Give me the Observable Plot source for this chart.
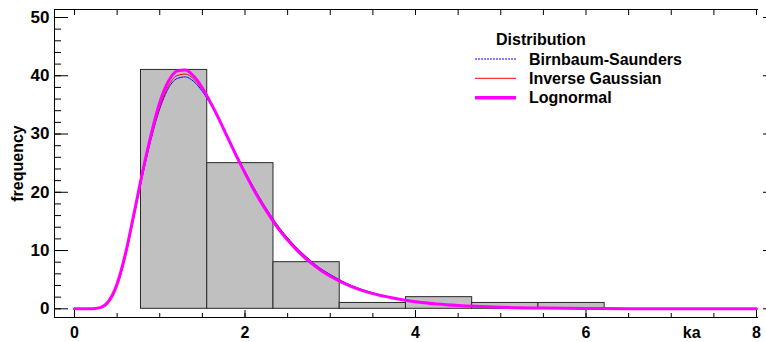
<!DOCTYPE html>
<html><head><meta charset="utf-8">
<script src="https://cdn.jsdelivr.net/npm/d3@7"></script>
<script src="https://cdn.jsdelivr.net/npm/@observablehq/plot@0.6"></script>
<style>
body{margin:0;background:#fff;}
#wrap{position:relative;width:766px;height:342px;font-family:"Liberation Sans",Arial,sans-serif;}
#wrap svg{display:block;}
#legend{position:absolute;left:0;top:0;pointer-events:none;}
</style></head><body><div id="wrap"></div>
<script>
// Histogram
const binEdges = [0.78, 1.557, 2.334, 3.111, 3.888, 4.665, 5.442, 6.219];
const binCounts = [41, 25, 8, 1, 2, 1, 1];

// Fitted curves (frequency scale)
const curveX = [0,0.1,0.2,0.3,0.4,0.5,0.6,0.7,0.8,0.9,1.0,1.1,1.2,1.3,1.4,1.5,1.6,1.7,1.8,1.9,2.0,2.1,2.2,2.3,2.4,2.5,2.6,2.7,2.8,2.9,3.0,
  3.25,3.5,3.75,4.0,4.25,4.5,5.0,5.5,6.0,6.5,7.0,7.5,8.0];
const birnbaumSaunders = [0,0,0.005,0.15,1.2,4.1,9.3,16.1,23.0,29.2,34.3,37.8,39.5,39.8,39.0,37.3,35.0,32.3,29.4,26.4,23.6,20.9,18.4,16.1,14.0,12.2,10.6,9.2,7.9,6.8,5.9,
  4.0,2.75,1.85,1.25,0.85,0.57,0.26,0.12,0.055,0.025,0.012,0.006,0.003];
const inverseGaussian = [0,0,0.002,0.1,1.0,3.8,9.0,15.9,23.0,29.4,34.6,38.2,40.0,40.3,39.4,37.6,35.2,32.4,29.4,26.4,23.5,20.8,18.3,16.0,13.9,12.1,10.5,9.1,7.8,6.7,5.8,
  3.95,2.7,1.85,1.25,0.86,0.59,0.28,0.13,0.065,0.032,0.016,0.008,0.004];
const lognormal = [0,0,0.01,0.2,1.3,4.3,9.6,16.5,23.6,30.0,35.4,39.0,40.8,41.0,39.9,37.9,35.3,32.4,29.3,26.2,23.3,20.5,18.0,15.7,13.6,11.8,10.2,8.8,7.6,6.5,5.6,
  3.8,2.6,1.8,1.2,0.82,0.56,0.27,0.13,0.06,0.03,0.015,0.008,0.004];

const seriesNames = ["Birnbaum-Saunders", "Inverse Gaussian", "Lognormal"];
const seriesColors = ["#0000ff", "#ff0000", "#ff00ff"];
const legendTitle = "Distribution";

// Axes
const xTickLabels = [0, 2, 4, 6, 8];
const xMinorTicks = d3.range(0, 8.001, 0.5);
const yTickLabels = [0, 10, 20, 30, 40, 50];
const yMinorTicks = d3.range(0, 50.001, 2);
const xLabel = "ka";
const xLabelAt = 7.24;
const yLabel = "frequency";

const bins = binCounts.map((c, i) => ({x1: binEdges[i], x2: binEdges[i + 1], count: c}));
const seriesValues = [birnbaumSaunders, inverseGaussian, lognormal];
const curves = seriesValues.map((vals, k) => vals.map((v, i) => ({name: seriesNames[k], x: curveX[i], y: v})));

const font = {fontSize: 16, fontWeight: "bold"};
const tickFont = {fontSize: 17, fontWeight: "bold"};
const noText = () => "";

const chart = Plot.plot({
  width: 766, height: 342,
  marginLeft: 54, marginRight: 9, marginTop: 9, marginBottom: 25,
  style: {fontFamily: "'Liberation Sans', Arial, sans-serif", background: "#fff", color: "#000", overflow: "visible"},
  x: {domain: [0, 8], range: [74, 756]},
  y: {domain: [0, 50], range: [308.3, 17]},
  marks: [
    Plot.rectY(bins, {x1: "x1", x2: "x2", y: "count", fill: "#c0c0c0", stroke: "#2a2a2a", strokeWidth: 1}),
    Plot.line(curves[0], {x: "x", y: "y", stroke: seriesColors[0], strokeWidth: 1, strokeDasharray: "2,1", curve: "monotone-x"}),
    Plot.line(curves[1], {x: "x", y: "y", stroke: seriesColors[1], strokeWidth: 1, curve: "monotone-x"}),
    Plot.line(curves[2], {x: "x", y: "y", stroke: seriesColors[2], strokeWidth: 3, curve: "monotone-x"}),
    Plot.frame({anchor: "left", stroke: "#000"}),
    Plot.frame({anchor: "top", stroke: "#000"}),
    Plot.frame({anchor: "bottom", stroke: "#000"}),
    // y ticks (inward) and labels
    Plot.axisY({anchor: "left", ticks: yMinorTicks, tickSize: -7, tickFormat: noText, label: null}),
    Plot.axisY({anchor: "left", ticks: yTickLabels, tickSize: -14, tickFormat: noText, label: null}),
    Plot.axisY({anchor: "left", ticks: yTickLabels, tickSize: 0, tickPadding: 5, label: null, ...tickFont}),
    Plot.axisY({anchor: "right", ticks: yTickLabels, tickSize: 4, dx: 5, tickFormat: noText, label: null}),
    // x ticks
    Plot.axisX({anchor: "bottom", ticks: xMinorTicks, tickSize: -4, tickFormat: noText, label: null}),
    Plot.axisX({anchor: "bottom", ticks: xTickLabels, tickSize: -7, tickFormat: noText, label: null}),
    Plot.axisX({anchor: "bottom", ticks: xTickLabels, tickSize: 0, tickPadding: 9, label: null, ...font}),
    Plot.axisX({anchor: "top", ticks: xMinorTicks, tickSize: -5, tickFormat: noText, label: null}),
    // axis titles
    Plot.text([{label: xLabel, x: xLabelAt}], {x: "x", text: "label", frameAnchor: "bottom", dy: 9.5, lineAnchor: "top", ...font}),
    Plot.text([yLabel], {text: d => d, frameAnchor: "left", textAnchor: "middle", dx: -37, rotate: -90, ...font})
  ]
});

const wrap = document.getElementById("wrap");
wrap.appendChild(chart);

// Legend overlay
const lg = d3.select(wrap).append("svg").attr("id", "legend").attr("width", 766).attr("height", 342)
  .style("font-family", "'Liberation Sans', Arial, sans-serif").style("font-weight", "bold").style("font-size", "16px");
lg.append("text").attr("x", 496).attr("y", 45).text(legendTitle);
const rowY = [59, 78.3, 97.7];
const rowW = [1, 1, 3.5];
seriesNames.forEach((name, i) => {
  const ln = lg.append("line").attr("x1", 475).attr("x2", 516).attr("y1", rowY[i]).attr("y2", rowY[i])
    .attr("stroke", seriesColors[i]).attr("stroke-width", rowW[i]);
  if (i === 0) ln.attr("stroke-dasharray", "2,1");
  lg.append("text").attr("x", 529).attr("y", rowY[i] + 5.5).text(name);
});
</script>
</body></html>
